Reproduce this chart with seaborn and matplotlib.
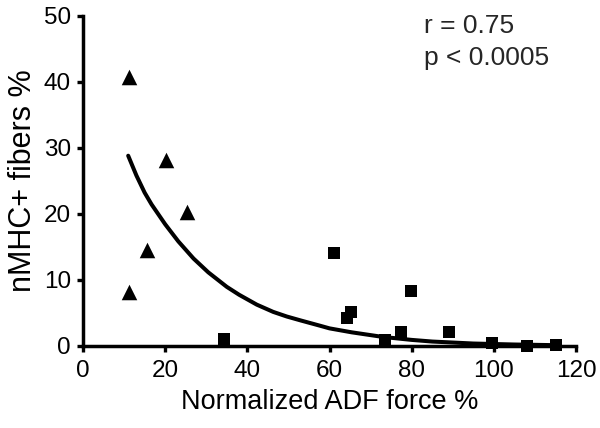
import matplotlib
matplotlib.use("Agg")
import matplotlib.pyplot as plt
import seaborn as sns
import pandas as pd

# Triangle group
tri_x = [11.3, 11.2, 15.5, 20.2, 25.2]
tri_y = [40.7, 8.1, 14.5, 28.1, 20.2]
# Square group
sq_x = [34.3, 61.1, 64.2, 65.2, 73.5, 77.4, 79.8, 89.1, 99.6, 108.1, 115.1]
sq_y = [1.0, 14.0, 4.2, 5.1, 0.9, 2.0, 8.2, 2.0, 0.4, 0.0, 0.1]
# Fitted curve
fit_x = [11, 13, 15, 16.7, 20, 23.2, 26.9, 30.5, 35, 38, 42.3, 46.3, 49.6, 53, 57.7, 60, 65.4, 73, 80, 85, 95, 105, 115]
fit_y = [28.8, 25.8, 23.2, 21.4, 18.4, 15.8, 13.2, 11.1, 8.9, 7.7, 6.2, 5.1, 4.4, 3.8, 3.0, 2.6, 2.0, 1.3, 0.85, 0.6, 0.3, 0.15, 0.05]

x_ticks = [0, 20, 40, 60, 80, 100, 120]
y_ticks = [0, 10, 20, 30, 40, 50]

sns.set_theme(style="ticks")
plt.rcParams["font.family"] = ["Liberation Sans", "DejaVu Sans"]

fig = plt.figure(figsize=(6, 4.28), dpi=100)
ax = fig.add_axes([83 / 600, 82.5 / 428, 493 / 600, 329.5 / 428])

fit_df = pd.DataFrame({"x": fit_x, "y": fit_y})
sns.lineplot(data=fit_df, x="x", y="y", ax=ax, color="black", linewidth=2.9, sort=True)

tri_df = pd.DataFrame({"x": tri_x, "y": tri_y})
sq_df = pd.DataFrame({"x": sq_x, "y": sq_y})
sns.scatterplot(data=tri_df, x="x", y="y", ax=ax, marker="^", s=125, color="black",
                edgecolor="black", linewidth=0, clip_on=False, zorder=5)
sns.scatterplot(data=sq_df, x="x", y="y", ax=ax, marker="s", s=80, color="black",
                edgecolor="black", linewidth=0, clip_on=False, zorder=5)

ax.set_xlim(0, 120)
ax.set_ylim(0, 50)
ax.set_xticks(x_ticks)
ax.set_yticks(y_ticks)
ax.set_xlabel("Normalized ADF force %", fontsize=19.5, color="black", labelpad=5)
ax.set_ylabel("nMHC+ fibers %", fontsize=22, color="black", labelpad=4)
ax.tick_params(axis="both", labelsize=17.5, colors="black", width=2.4, length=4.3, direction="out")
ax.tick_params(axis="y", pad=4.5)
ax.tick_params(axis="x", pad=6)
for s in ["top", "right"]:
    ax.spines[s].set_visible(False)
for s in ["left", "bottom"]:
    ax.spines[s].set_linewidth(2.5)
    ax.spines[s].set_color("black")

fig.text(424 / 600, 1 - 33 / 428, "r = 0.75", fontsize=19, ha="left", va="baseline")
fig.text(424 / 600, 1 - 65 / 428, "p < 0.0005", fontsize=19, ha="left", va="baseline")

fig.savefig("out.png", dpi=100)
